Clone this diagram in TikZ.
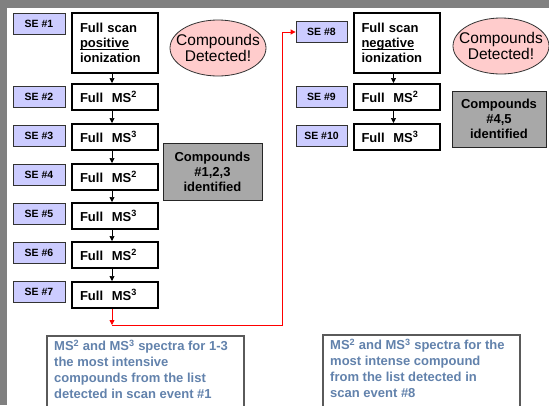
\documentclass[tikz,border=0pt]{standalone}
\usepackage{fontspec}
\setmainfont{Liberation Sans}
\usetikzlibrary{arrows.meta,shapes.geometric}
\definecolor{framegrey}{RGB}{128,128,128}
\definecolor{lav}{RGB}{204,204,255}
\definecolor{pinkf}{RGB}{255,204,204}
\definecolor{cgrey}{RGB}{168,168,168}
\definecolor{bluetxt}{RGB}{98,130,172}
\definecolor{bborder}{RGB}{90,90,90}
\newcommand{\myul}[1]{\leavevmode\setbox0\hbox{#1}\rlap{\rule[-2pt]{\wd0}{0.9pt}}\box0}
\begin{document}
\begin{tikzpicture}[x=1pt,y=-1pt,
  sebox/.style={draw=black!80, line width=0.8pt, fill=lav, minimum width=52pt, minimum height=21pt, inner sep=0pt,
    font=\bfseries\fontsize{10.5}{12}\selectfont},
  fullbox/.style={draw=black, line width=2pt, fill=white, text width=70pt, inner xsep=8pt, inner ysep=0pt,
    align=left, font=\bfseries\fontsize{13}{15}\selectfont},
  msbox/.style={fullbox, minimum height=26pt},
  scanbox/.style={fullbox, minimum height=60pt},
  detell/.style={ellipse, draw=black!80, line width=0.8pt, fill=pinkf, minimum width=96pt, minimum height=56pt,
    inner xsep=-8pt, inner ysep=0pt, align=center, font=\fontsize{15.5}{16}\selectfont},
  cmpbox/.style={draw=black!85, line width=1pt, fill=cgrey, inner sep=0pt, align=center,
    font=\bfseries\fontsize{13}{15}\selectfont},
  bbox/.style={draw=bborder, line width=1.5pt, fill=white, minimum width=197pt, minimum height=90pt, inner sep=0pt},
  btext/.style={text=bluetxt, align=left, inner sep=0pt, font=\bfseries\fontsize{13}{16}\selectfont},
  arr/.style={black, line width=0.7pt, -{Triangle[length=5pt,width=5pt]}},
  redarr/.style={red, line width=0.8pt, -{Triangle[length=5pt,width=5pt]}},
]
\useasboundingbox (0,0) rectangle (549,405);
\clip (0,0) rectangle (549,405);
\fill[framegrey] (0,0) rectangle (549,405);
\fill[white] (7,8) rectangle (549,405);

% left column
\node[sebox] (se1) at (39,24) {SE \#1};
\node[scanbox] (fs1) at (115,43) {Full scan\\\myul{positive}\\ionization};
\node[detell] (ell1) at (218,48) {Compounds\\Detected!};

\node[msbox] (ms2) at (115,97) {Full~ MS\textsuperscript{2}};
\node[msbox] (ms3) at (115,137) {Full~ MS\textsuperscript{3}};
\node[msbox] (ms4) at (115,177) {Full~ MS\textsuperscript{2}};
\node[msbox] (ms5) at (115,216) {Full~ MS\textsuperscript{3}};
\node[msbox] (ms6) at (115,255) {Full~ MS\textsuperscript{2}};
\node[msbox] (ms7) at (115,295) {Full~ MS\textsuperscript{3}};

\node[sebox] (se2) at (39,97) {SE \#2};
\node[sebox] (se3) at (39,136) {SE \#3};
\node[sebox] (se4) at (39,175) {SE \#4};
\node[sebox] (se5) at (39,214) {SE \#5};
\node[sebox] (se6) at (39,253) {SE \#6};
\node[sebox] (se7) at (39,292) {SE \#7};

\node[cmpbox, minimum width=99pt, minimum height=57pt] (cmp1) at (212.5,171.5) {Compounds\\\#1,2,3\\identified};

\coordinate (j) at (112,325);
\coordinate (c) at (282,325);

\draw[arr] (fs1.south -| j) -- (ms2.north -| j);
\draw[arr] (ms2.south -| j) -- (ms3.north -| j);
\draw[arr] (ms3.south -| j) -- (ms4.north -| j);
\draw[arr] (ms4.south -| j) -- (ms5.north -| j);
\draw[arr] (ms5.south -| j) -- (ms6.north -| j);
\draw[arr] (ms6.south -| j) -- (ms7.north -| j);

% right column
\node[sebox, minimum width=51pt] (se8) at (321.5,32) {SE \#8};
\node[scanbox] (fs2) at (396.5,43) {Full scan\\\myul{negative}\\ionization};
\node[detell] (ell2) at (501,46) {Compounds\\Detected!};
\node[msbox] (ms9) at (396.5,97) {Full~ MS\textsuperscript{2}};
\node[msbox] (ms10) at (396.5,137) {Full~ MS\textsuperscript{3}};
\node[sebox, minimum width=51pt] (se9) at (321.5,97) {SE \#9};
\node[sebox, minimum width=51pt] (se10) at (321.5,136) {SE \#10};
\node[cmpbox, minimum width=94pt, minimum height=56pt] (cmp2) at (499,119) {Compounds\\\#4,5\\identified};

\coordinate (k) at (393.5,0);
\draw[arr] (fs2.south -| k) -- (ms9.north -| k);
\draw[arr] (ms9.south -| k) -- (ms10.north -| k);

% red connector
\draw[redarr] (ms7.south -| j) -- (j);
\draw[redarr] (j) -- (c) |- (se8.west);

% bottom boxes
\node[bbox, anchor=north west] (b1) at (46,335) {};
\node[btext, anchor=north west] (t1) at (54,340)
  {MS\textsuperscript{2} and MS\textsuperscript{3} spectra for 1-3\\the most intensive\\compounds from the list\\detected in scan event \#1};
\node[bbox, anchor=north west] (b2) at (322,334) {};
\node[btext, anchor=north west] (t2) at (330,339)
  {MS\textsuperscript{2} and MS\textsuperscript{3} spectra for the\\most intense compound\\from the list detected in\\scan event \#8};
\end{tikzpicture}
\end{document}
